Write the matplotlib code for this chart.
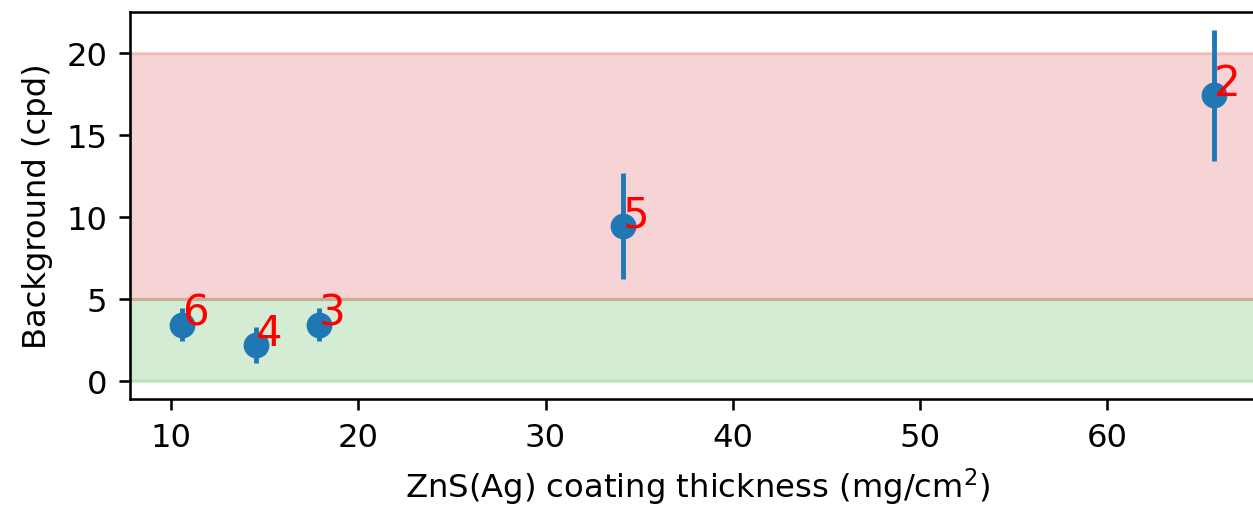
import matplotlib
matplotlib.use("Agg")
import matplotlib.pyplot as plt

thickness = [10.55, 14.5, 17.9, 34.15, 65.75]
background = [3.45, 2.2, 3.45, 9.45, 17.4]
errors = [1.0, 1.1, 1.0, 3.25, 4.0]
labels = ["6", "4", "3", "5", "2"]

W, H, DPI = 1253, 506, 232
fig = plt.figure(figsize=(W / DPI, H / DPI), dpi=DPI)
ax = fig.add_axes([130 / W, (H - 400) / H, (1266 - 130) / W, (400 - 13) / H])

ax.axhspan(0, 5, color="tab:green", alpha=0.2)
ax.axhspan(5, 20, color="tab:red", alpha=0.2)
ax.errorbar(thickness, background, yerr=errors, fmt="o", color="tab:blue",
            markersize=7)
for x, y, lab in zip(thickness, background, labels):
    ax.text(x, y, lab, color="red", fontsize=13)

ax.set_xlabel("ZnS(Ag) coating thickness (mg/cm$^2$)")
ax.set_ylabel("Background (cpd)")
ax.set_yticks([0, 5, 10, 15, 20])
ax.set_xticks([10, 20, 30, 40, 50, 60])

fig.savefig("out.png", dpi=DPI)
